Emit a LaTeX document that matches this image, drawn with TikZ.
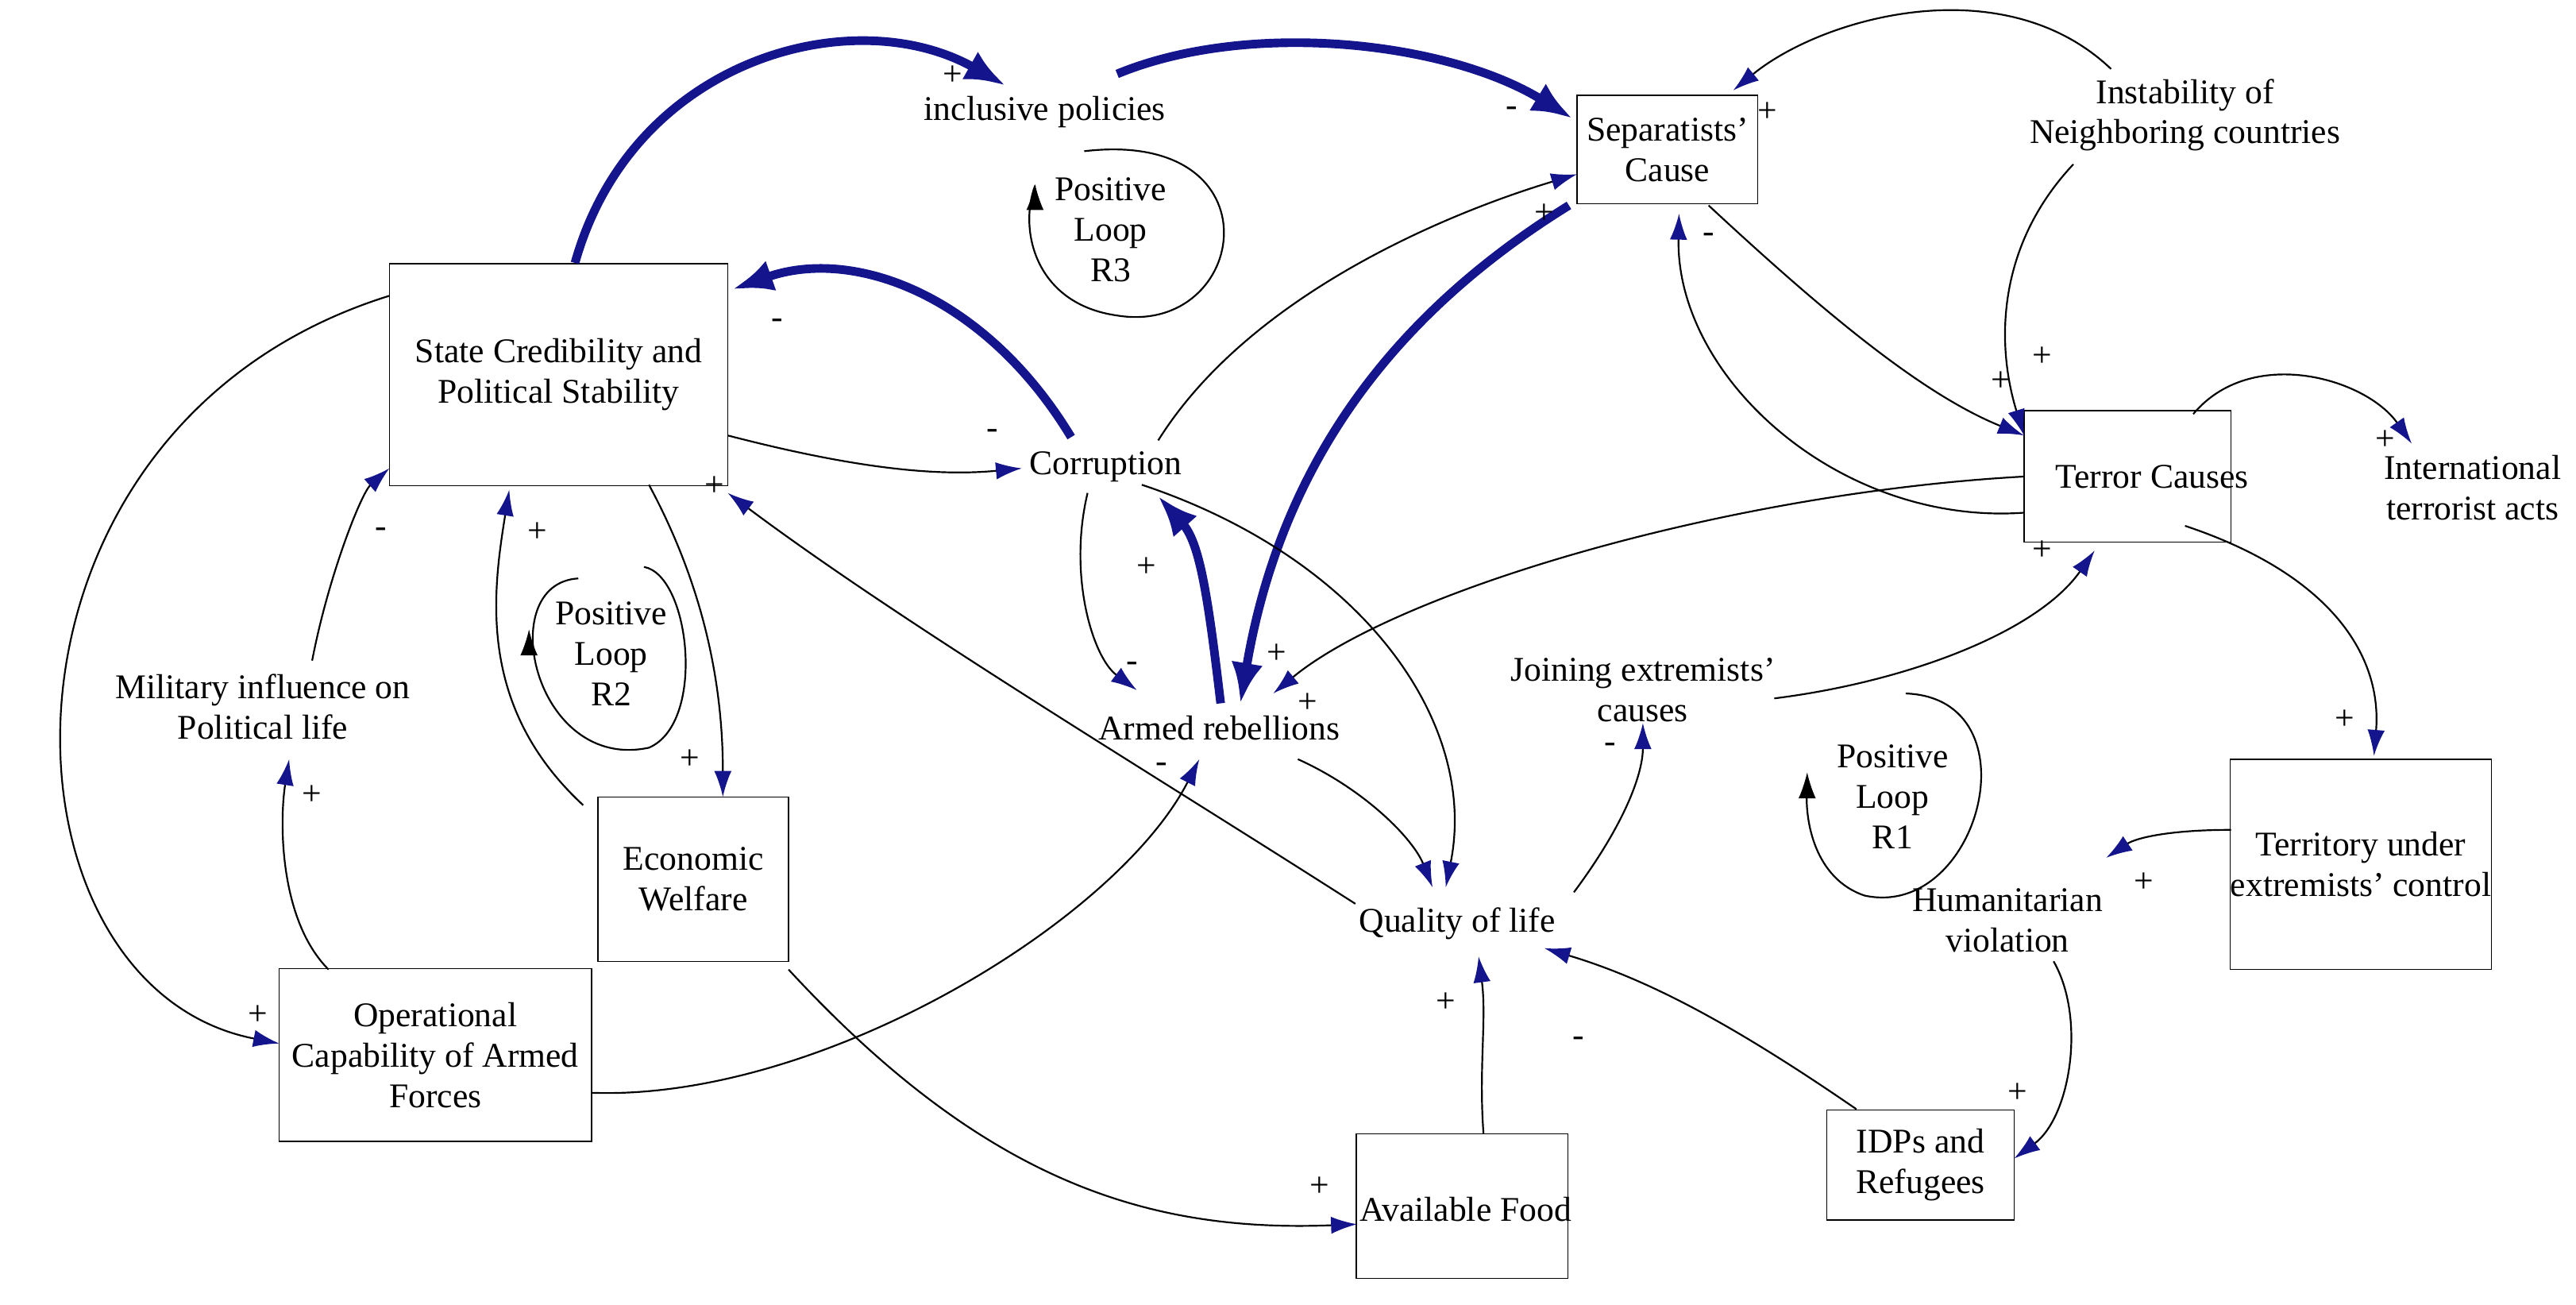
\documentclass[tikz,border=0pt]{standalone}
\usepackage{fontspec}
\setmainfont{Liberation Serif}
\usetikzlibrary{arrows.meta}
\definecolor{nv}{RGB}{20,20,140}
\begin{document}
\begin{tikzpicture}[x=0.02cm,y=-0.02cm,
 every node/.style={font=\fontsize{12}{14}\selectfont},
 box/.style={draw,thin,align=center,inner sep=0},
 lbl/.style={align=center,inner sep=1pt},
 thin arr/.style={draw,line width=0.6pt,-{Latex[length=9pt,width=6pt,color=nv]}},
 thick arr/.style={draw=nv,line width=3pt,-{Latex[length=14pt,width=11pt]}},
 sg/.style={font=\fontsize{12}{12}\selectfont,inner sep=0}]
\useasboundingbox (0,0) rectangle (1568,794);
% nodes
\node[box,minimum width=206*0.02cm,minimum height=135*0.02cm] (sc) at (340,228) {State Credibility and\\Political Stability};
\node[lbl] (ip) at (636,68) {inclusive policies};
\node[box,minimum width=110*0.02cm,minimum height=66*0.02cm] (sep) at (1015,91) {Separatists'\\Cause};
\node[lbl] (inst) at (1330,70) {Instability of\\Neighboring countries};
\node[lbl] (cor) at (673,284) {Corruption};
\node[box,minimum width=126*0.02cm,minimum height=80*0.02cm] (tc) at (1295,290) {};
\node[lbl] at (1310,290) {Terror Causes};
\node[lbl] (int) at (1505,297) {International\\terrorist acts};
\node[lbl] (mil) at (160,430) {Military influence on\\Political life};
\node[lbl] (ar) at (742,443) {Armed rebellions};
\node[lbl] (je) at (1000,420) {Joining extremists'\\causes};
\node[box,minimum width=116*0.02cm,minimum height=100*0.02cm] (ew) at (422,535) {Economic\\Welfare};
\node[lbl] (ql) at (887,562) {Quality of life};
\node[box,minimum width=159*0.02cm,minimum height=128*0.02cm] (ter) at (1437,526) {Territory under\\extremists' control};
\node[lbl] (hv) at (1222,560) {Humanitarian\\violation};
\node[box,minimum width=190*0.02cm,minimum height=105*0.02cm] (op) at (265,642) {Operational\\Capability of Armed\\Forces};
\node[box,minimum width=129*0.02cm,minimum height=88*0.02cm] (af) at (890,734) {};
\node[lbl] at (892,736) {Available Food};
\node[box,minimum width=114*0.02cm,minimum height=67*0.02cm] (idp) at (1169,709) {IDPs and\\Refugees};
\node[lbl] (r3) at (676,140) {Positive\\Loop\\R3};
\node[lbl] (r2) at (372,398) {Positive\\Loop\\R2};
\node[lbl] (r1) at (1152,485) {Positive\\Loop\\R1};
% loop arcs
\coordinate (l3a) at (630,113);
\draw[line width=0.6pt] (660,92) .. controls (780,78) and (760,205) .. (680,192) .. controls (630,185) and (620,140) .. (l3a);
\draw[-{Latex[length=9pt,width=6pt]}] (l3a) -- (630,112);
\draw[line width=0.6pt] (352,352) .. controls (300,355) and (325,470) .. (395,455) .. controls (430,440) and (420,350) .. (392,345);
\draw[-{Latex[length=9pt,width=6pt]}] (322,392) -- (322,383);
\draw[line width=0.6pt] (1160,422) .. controls (1240,425) and (1205,560) .. (1135,545) .. controls (1105,535) and (1098,500) .. (1100,478);
\draw[-{Latex[length=9pt,width=6pt]}] (1100,480) -- (1100,470);
% thick arrows
\coordinate (a1) at (350,160); \coordinate (a2) at (612,52);
\draw[thick arr] (a1) .. controls (385,35) and (520,0) .. (a2);
\coordinate (b1) at (680,45); \coordinate (b2) at (957,72);
\draw[thick arr] (b1) .. controls (760,12) and (880,25) .. (b2);
\coordinate (c1) at (652,266); \coordinate (c2) at (446,176);
\draw[thick arr] (c1) .. controls (600,180) and (520,150) .. (c2);
\coordinate (d1) at (955,125); \coordinate (d2) at (755,428);
\draw[thick arr] (d1) .. controls (850,190) and (780,280) .. (d2);
\coordinate (e1) at (743,428); \coordinate (e2) at (705,302);
\draw[thick arr] (e1) .. controls (735,360) and (730,330) .. (e2);
% thin arrows
\path[thin arr] (1285,42) .. controls (1220,-20) and (1110,10) .. (1055,55);
\path[thin arr] (1262,100) .. controls (1215,150) and (1215,210) .. (1232,265);
\path[thin arr] (1040,125) .. controls (1110,190) and (1170,240) .. (1232,265);
\path[thin arr] (1232,312) .. controls (1120,320) and (1020,230) .. (1022,130);
\path[thin arr] (1335,252) .. controls (1370,210) and (1440,230) .. (1468,270);
\path[thin arr] (1330,320) .. controls (1420,350) and (1450,400) .. (1445,460);
\path[thin arr] (1358,505) .. controls (1320,505) and (1300,510) .. (1282,522);
\path[thin arr] (1250,585) .. controls (1270,620) and (1260,680) .. (1226,705);
\path[thin arr] (1130,675) .. controls (1050,620) and (1000,595) .. (940,577);
\path[thin arr] (1232,290) .. controls (1050,300) and (850,360) .. (775,422);
\path[thin arr] (1080,425) .. controls (1160,415) and (1240,385) .. (1275,335);
\path[thin arr] (958,543) .. controls (990,500) and (1000,470) .. (1000,440);
\path[thin arr] (695,295) .. controls (830,340) and (900,440) .. (880,540);
\path[thin arr] (662,300) .. controls (650,350) and (665,400) .. (692,420);
\path[thin arr] (705,268) .. controls (760,180) and (880,130) .. (960,106);
\path[thin arr] (443,265) .. controls (520,285) and (570,290) .. (622,285);
\path[thin arr] (395,295) .. controls (430,360) and (440,420) .. (440,485);
\path[thin arr] (355,490) .. controls (290,430) and (300,360) .. (310,298);
\path[thin arr] (190,402) .. controls (200,350) and (220,300) .. (237,285);
\path[thin arr] (200,590) .. controls (170,560) and (170,500) .. (176,462);
\path[thin arr] (237,180) .. controls (-20,260) and (-10,600) .. (170,635);
\path[thin arr] (360,665) .. controls (500,670) and (680,560) .. (730,462);
\path[thin arr] (480,590) .. controls (600,720) and (700,750) .. (826,745);
\path[thin arr] (903,690) .. controls (900,650) and (905,620) .. (900,582);
\path[thin arr] (790,462) .. controls (830,480) and (860,510) .. (872,540);
\path[thin arr] (825,550) .. controls (700,470) and (550,380) .. (443,300);
% signs
\node[sg] at (580,46) {+}; \node[sg] at (920,68) {-}; \node[sg] at (1076,68) {+};
\node[sg] at (940,130) {+}; \node[sg] at (473,197) {-}; \node[sg] at (1040,145) {-};
\node[sg] at (1218,232) {+}; \node[sg] at (1243,217) {+}; \node[sg] at (1452,268) {+};
\node[sg] at (1243,335) {+}; \node[sg] at (604,264) {-}; \node[sg] at (435,296) {+};
\node[sg] at (327,324) {+}; \node[sg] at (232,324) {-}; \node[sg] at (698,345) {+};
\node[sg] at (689,406) {-}; \node[sg] at (777,398) {+}; \node[sg] at (796,428) {+};
\node[sg] at (707,467) {-}; \node[sg] at (980,455) {-}; \node[sg] at (420,462) {+};
\node[sg] at (190,484) {+}; \node[sg] at (157,618) {+}; \node[sg] at (1427,438) {+};
\node[sg] at (1305,537) {+}; \node[sg] at (1228,665) {+}; \node[sg] at (880,610) {+};
\node[sg] at (961,634) {-}; \node[sg] at (803,722) {+};
\end{tikzpicture}
\end{document}
